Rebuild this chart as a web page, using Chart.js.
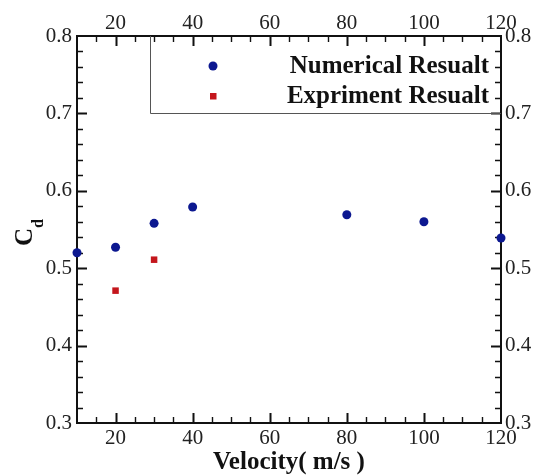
<!DOCTYPE html>
<html>
<head>
<meta charset="utf-8">
<script src="https://cdn.jsdelivr.net/npm/chart.js@4"></script>
<style>
  body { margin: 0; background: #fff; }
</style>
</head>
<body>
<canvas id="js--chart" width="538" height="476"></canvas>
<script>
const velocity = [10, 20, 30, 40, 80, 100, 120];
const numericalCd = [0.52, 0.527, 0.558, 0.579, 0.569, 0.56, 0.539];
const expVelocity = [20, 30];
const experimentCd = [0.471, 0.511];
const xTicks = [20, 40, 60, 80, 100, 120];
const yTicks = [0.3, 0.4, 0.5, 0.6, 0.7, 0.8];

const blue = '#0c1890';
const red = '#c4161c';
const serif = '"Liberation Serif", "Times New Roman", serif';

const numPoints = velocity.map((v, i) => ({x: v, y: numericalCd[i]}));
const expPoints = expVelocity.map((v, i) => ({x: v, y: experimentCd[i]}));

// inward ticks, legend box and axis titles
const decor = {
    id: 'decor',
    beforeDatasetsDraw(chart) {
        const c = chart.ctx, a = chart.chartArea;
        const x = chart.scales.x, y = chart.scales.y;
        c.save();
        c.strokeStyle = '#111';
        for (let v = 15; v <= 115; v += 5) {
            const major = v % 20 == 0;
            const len = major ? 10 : 6;
            c.lineWidth = major ? 2 : 1.4;
            const px = Math.round(x.getPixelForValue(v)) + 0.5;
            c.beginPath();
            c.moveTo(px, a.bottom); c.lineTo(px, a.bottom - len);
            c.moveTo(px, a.top); c.lineTo(px, a.top + len);
            c.stroke();
        }
        for (let k = 16; k <= 39; k++) {
            const v = k / 50;
            const major = k % 5 == 0;
            const len = major ? 10 : 6;
            c.lineWidth = major ? 2 : 1.4;
            const py = Math.round(y.getPixelForValue(v)) + 0.5;
            c.beginPath();
            c.moveTo(a.left, py); c.lineTo(a.left + len, py);
            c.moveTo(a.right, py); c.lineTo(a.right - len, py);
            c.stroke();
        }
        c.restore();
    },
    afterDraw(chart) {
        const c = chart.ctx, a = chart.chartArea;
        const y = chart.scales.y;
        c.save();
        // legend
        const boxBottom = Math.round(y.getPixelForValue(0.7)) + 0.5;
        c.strokeStyle = '#555';
        c.lineWidth = 1;
        c.beginPath();
        c.moveTo(150.5, a.top); c.lineTo(150.5, boxBottom); c.lineTo(a.right, boxBottom);
        c.stroke();
        c.fillStyle = blue;
        c.beginPath(); c.arc(213, 66, 4.5, 0, Math.PI * 2); c.fill();
        c.fillStyle = red;
        c.fillRect(210, 93, 6.5, 6.5);
        c.fillStyle = '#111';
        c.font = 'bold 25px ' + serif;
        c.textAlign = 'right';
        c.textBaseline = 'alphabetic';
        c.fillText('Numerical Resualt', 489, 73);
        c.fillText('Expriment Resualt', 489, 103);
        // x title
        c.textAlign = 'center';
        c.fillText('Velocity( m/s )', (a.left + a.right) / 2, 469);
        // y title C_d
        c.translate(32, 237);
        c.rotate(-Math.PI / 2);
        c.textAlign = 'center';
        c.fillText('C', 0, 0);
        c.font = 'bold 16px ' + serif;
        c.textAlign = 'left';
        c.fillText('d', 9, 11);
        c.restore();
    }
};

const tickFont = {family: serif, size: 21};
const border = {display: true, color: '#111', width: 2};

function xScale(pos, h, pad) {
    return {
        type: 'linear', position: pos, min: 10, max: 120,
        afterBuildTicks: s => { s.ticks = xTicks.map(v => ({value: v})); },
        afterFit: s => { s.height = h; },
        grid: {display: false, drawTicks: false},
        border: border,
        ticks: {font: tickFont, color: '#222', padding: pad, maxRotation: 0, autoSkip: false}
    };
}
function yScale(pos, w, pad) {
    return {
        type: 'linear', position: pos, min: 0.3, max: 0.8,
        afterBuildTicks: s => { s.ticks = yTicks.map(v => ({value: v})); },
        afterFit: s => { s.width = w; },
        grid: {display: false, drawTicks: false},
        border: border,
        ticks: {font: tickFont, color: '#222', padding: pad, autoSkip: false,
            callback: v => v.toFixed(1)}
    };
}

new Chart(document.getElementById('js--chart'), {
    type: 'scatter',
    data: {
        datasets: [{
            label: 'Numerical Resualt',
            data: numPoints,
            pointStyle: 'circle',
            pointRadius: 4.5,
            backgroundColor: blue,
            borderColor: blue,
            borderWidth: 0,
            clip: false,
            xAxisID: 'x', yAxisID: 'y'
        }, {
            label: 'Expriment Resualt',
            data: expPoints,
            pointStyle: 'rect',
            pointRadius: 4.6,
            backgroundColor: red,
            borderColor: red,
            borderWidth: 0,
            clip: false,
            xAxisID: 'x', yAxisID: 'y'
        }]
    },
    options: {
        responsive: false,
        animation: false,
        layout: {padding: 0},
        plugins: {legend: {display: false}, tooltip: {enabled: false}},
        scales: {
            x: xScale('bottom', 53, 3),
            x2: xScale('top', 36, 0),
            y: yScale('left', 77, 5),
            y2: yScale('right', 37, 4)
        }
    },
    plugins: [decor]
});
</script>
</body>
</html>
